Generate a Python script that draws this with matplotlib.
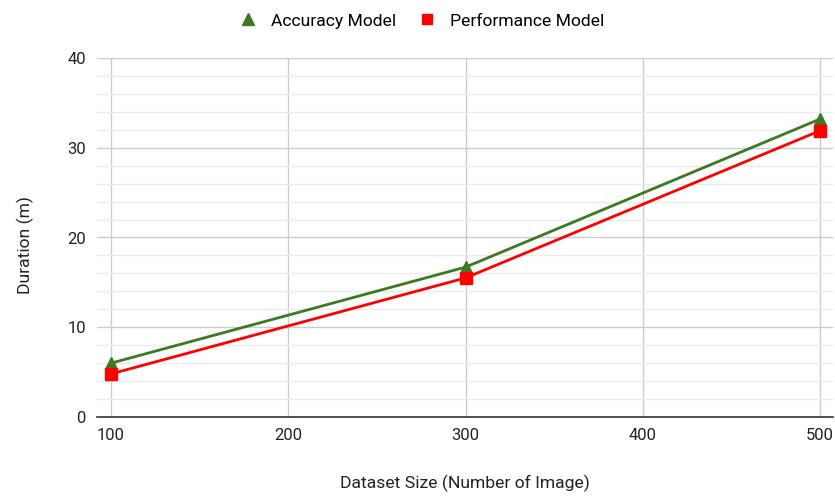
import matplotlib.pyplot as plt
from matplotlib.ticker import MultipleLocator

plt.rcParams["font.family"] = ["Roboto", "DejaVu Sans"]

sizes = [100, 300, 500]
accuracy = [6.0, 16.7, 33.2]
performance = [4.8, 15.5, 31.9]

GREEN = "#3b7a22"
RED = "#ff0000"

fig = plt.figure(figsize=(8.35, 4.98), dpi=100)
ax = fig.add_axes([97 / 835, 81 / 498, 736 / 835, 359 / 498])

ax.plot(sizes, accuracy, color=GREEN, lw=2, marker="^", ms=9, label="Accuracy Model",
        zorder=3)
ax.plot(sizes, performance, color=RED, lw=2, marker="s", ms=8, label="Performance Model",
        zorder=3)

ax.set_xlim(92.1, 507.3)
ax.set_ylim(0, 40)
ax.xaxis.set_major_locator(MultipleLocator(100))
ax.yaxis.set_major_locator(MultipleLocator(10))
ax.yaxis.set_minor_locator(MultipleLocator(2))
ax.grid(which="major", color="#cccccc", lw=1)
ax.grid(which="minor", axis="y", color="#ebebeb", lw=1)
ax.set_axisbelow(True)

for s in ("left", "right", "top"):
    ax.spines[s].set_visible(False)
ax.spines["bottom"].set_color("#333333")
ax.spines["bottom"].set_linewidth(1.2)
ax.tick_params(which="both", length=0, labelsize=12, colors="#222222")
ax.tick_params(axis="y", pad=8)
ax.tick_params(axis="x", pad=8)

ax.set_xlabel("Dataset Size (Number of Image)", fontsize=12.6, color="#222222",
              labelpad=23)
ax.set_ylabel("Duration (m)", fontsize=12.6, color="#222222")
ax.yaxis.set_label_coords(-0.086, 0.478)

fig.legend(loc="upper center", bbox_to_anchor=(0.505, 1.005), ncol=2, frameon=False,
           fontsize=12.6, handlelength=1.0, columnspacing=1.3, markerscale=0.9)
leg = fig.legends[0]
for h in leg.legend_handles:
    h.set_linestyle("none")

fig.savefig("out.png", dpi=100)
